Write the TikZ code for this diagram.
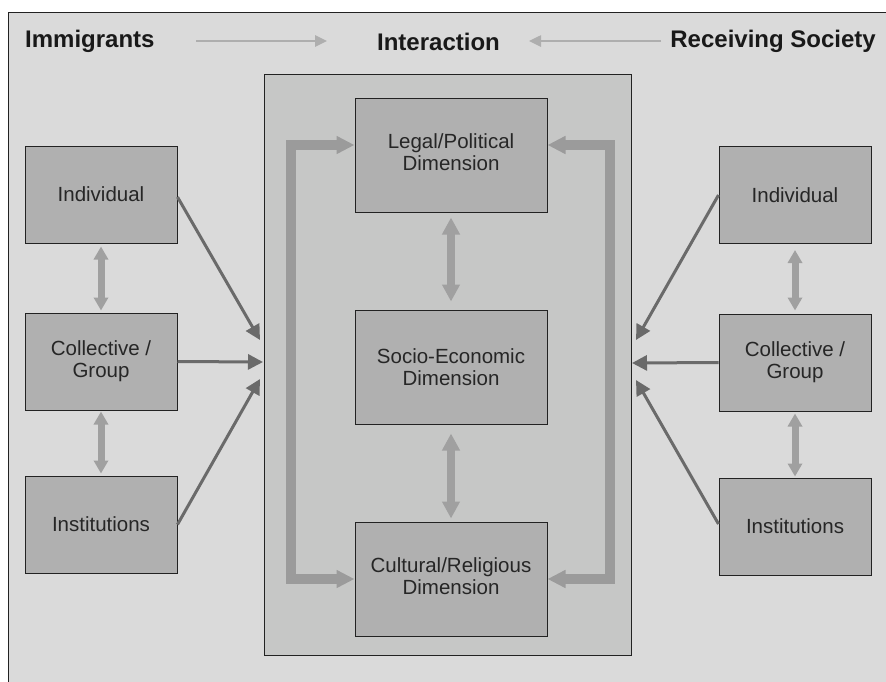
\documentclass[tikz,border=0pt]{standalone}
\usepackage{fontspec}
\setmainfont{Liberation Sans}
\usetikzlibrary{arrows.meta}
\definecolor{bgout}{HTML}{DADADA}
\definecolor{bgmid}{HTML}{C6C7C6}
\definecolor{boxfill}{HTML}{B0B0B0}
\definecolor{bigarr}{HTML}{9B9B9B}
\definecolor{dblarr}{HTML}{A0A0A0}
\definecolor{darkarr}{HTML}{6A6A6A}
\definecolor{hdrarr}{HTML}{AEAEAE}
\definecolor{edge}{HTML}{222222}
\tikzset{
  sidebox/.style={draw=edge, line width=1pt, fill=boxfill, minimum width=152pt, minimum height=97pt, inner sep=0pt, align=center, font=\fontsize{20.5}{22}\selectfont, text=black!85},
  dimbox/.style={draw=edge, line width=1pt, fill=boxfill, minimum width=192pt, minimum height=114pt, inner sep=0pt, align=center, font=\fontsize{20.5}{22}\selectfont, text=black!85},
  hdr/.style={font=\fontsize{24}{26}\selectfont\bfseries, text=black!90, inner sep=0pt},
  hdrarrow/.style={draw=hdrarr, line width=2.5pt, -{Triangle[length=12pt,width=11pt]}},
  darrow/.style={draw=darkarr, line width=3pt, -{Triangle[length=15pt,width=15pt]}},
  bigarrow/.style={draw=bigarr, line width=10pt, line join=miter, {Triangle[length=18pt,width=17pt]}-{Triangle[length=18pt,width=17pt]}},
  cdbl/.style={draw=dblarr, line width=8pt, {Triangle[length=17pt,width=17pt]}-{Triangle[length=17pt,width=17pt]}},
  sdbl/.style={draw=dblarr, line width=7pt, {Triangle[length=13pt,width=14pt]}-{Triangle[length=13pt,width=14pt]}}
}
\begin{document}
\begin{tikzpicture}[x=1pt,y=-1pt]
\useasboundingbox (0,0) rectangle (886,681);
\fill[white] (0,0) rectangle (886,681);
\fill[bgout] (8,12) rectangle (890,690);
\draw[edge, line width=1pt] (8,690) -- (8,12) -- (890,12);
% middle panel
\node[draw=edge, line width=1pt, fill=bgmid, minimum width=367pt, minimum height=581pt, inner sep=0pt] (mid) at (447.5,364.5) {};
% headers
\node[hdr, anchor=west] (imm) at (25,41) {Immigrants};
\node[hdr] (inter) at (438.5,42) {Interaction};
\node[hdr, anchor=east] (recv) at (876,41) {Receiving Society};
\coordinate (ha1) at (196,41);
\coordinate (ha2) at (327,41);
\coordinate (hb1) at (661,41);
\coordinate (hb2) at (529,41);
\draw[hdrarrow] (ha1) -- (ha2);
\draw[hdrarrow] (hb1) -- (hb2);
% dimension boxes
\node[dimbox] (legal) at (451,155) {Legal/Political\\Dimension\\[-16pt]};
\node[dimbox] (socio) at (451,367) {Socio-Economic\\Dimension};
\node[dimbox] (cult) at (451,579) {Cultural/Religious\\Dimension\\[-16pt]};
% side boxes
\node[sidebox] (lind) at (101,194.5) {Individual};
\node[sidebox] (lcol) at (101,361.5) {Collective /\\Group};
\node[sidebox] (linst) at (101,524.5) {Institutions};
\node[sidebox] (rind) at (795,195) {Individual};
\node[sidebox] (rcol) at (795,362.5) {Collective /\\Group};
\node[sidebox] (rinst) at (795,526.5) {Institutions};
% bracket arrows
\coordinate (lgw) at ([yshift=10pt]legal.west);
\coordinate (lge) at ([yshift=10pt]legal.east);
\coordinate (lbx) at (291,145);
\coordinate (rbx) at (610,145);
\draw[bigarrow] (lgw) -- (lbx) |- (cult.west);
\draw[bigarrow] (lge) -- (rbx) |- (cult.east);
% centre double arrows
\draw[cdbl] ([yshift=-5pt]legal.south) -- ([yshift=8pt]socio.north);
\draw[cdbl] ([yshift=-9pt]socio.south) -- ([yshift=3pt]cult.north);
% side double arrows
\draw[sdbl] ([yshift=-3pt]lind.south) -- ([yshift=2pt]lcol.north);
\draw[sdbl] ([yshift=-1pt]lcol.south) -- ([yshift=2pt]linst.north);
\draw[sdbl] ([yshift=-6pt]rind.south) -- ([yshift=3pt]rcol.north);
\draw[sdbl] ([yshift=-2pt]rcol.south) -- ([yshift=1pt]rinst.north);
% dark arrows
\coordinate (lt1) at (260,340);
\coordinate (lt2) at (263,362);
\coordinate (lt3) at (260,379);
\coordinate (rt1) at (636,340);
\coordinate (rt2) at (632,363);
\coordinate (rt3) at (636,380);
\draw[darrow] ([yshift=-2.5pt]lind.east) -- (lt1);
\draw[darrow] (lcol.east) -- (lt2);
\draw[darrow] (linst.east) -- (lt3);
\draw[darrow] (rind.west) -- (rt1);
\draw[darrow] (rcol.west) -- (rt2);
\draw[darrow] ([yshift=2.5pt]rinst.west) -- (rt3);
\end{tikzpicture}
\end{document}
